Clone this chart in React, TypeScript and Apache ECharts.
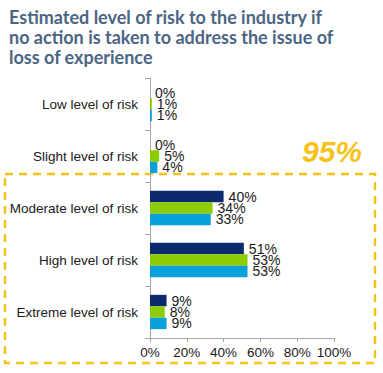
import React, { useEffect, useRef } from "react";
import * as echarts from "echarts";

const categories = [
  "Low level of risk",
  "Slight level of risk",
  "Moderate level of risk",
  "High level of risk",
  "Extreme level of risk",
];
const seriesA = [0, 0, 40, 51, 9];
const seriesB = [1, 5, 34, 53, 8];
const seriesC = [1, 4, 33, 53, 9];
const xTicks = [0, 20, 40, 60, 80, 100];
const titleText =
  "Estimated level of risk to the industry if\nno action is taken to address the issue of\nloss of experience";
const highlightText = "95%";

export default function App() {
  const ref = useRef<HTMLDivElement>(null);
  useEffect(() => {
    if (!ref.current) return;
    const chart = echarts.init(ref.current, undefined, { renderer: "svg" });
    const font = "Liberation Sans, Arial, sans-serif";
    const label = {
      show: true,
      position: "right" as const,
      distance: 5,
      formatter: "{c}%",
      fontSize: 14,
      lineHeight: 11,
      fontFamily: font,
      color: "#1a1a1a",
    };
    const colors = ["#0d2a6e", "#8ccc00", "#0aa0dc"];
    const mk = (data: number[], i: number) => ({
      type: "bar",
      data,
      barGap: "0%",
      barCategoryGap: "34%",
      itemStyle: { color: colors[i] },
      label,
    });
    chart.setOption({
      animation: false,
      title: {
        text: titleText,
        left: 4,
        top: 2,
        textStyle: {
          fontFamily: "Lato, Open Sans, sans-serif",
          fontWeight: "bold",
          fontSize: 18,
          lineHeight: 20,
          color: "#4b6584",
        },
      },
      grid: { left: 150, right: 49, top: 78, bottom: 35 },
      xAxis: {
        type: "value",
        min: 0,
        max: 100,
        interval: 20,
        axisLine: { show: true, lineStyle: { color: "#a6a6a6" } },
        axisTick: { show: true, length: 4, lineStyle: { color: "#a6a6a6" } },
        splitLine: { show: false },
        axisLabel: {
          formatter: (v: number) => (xTicks.includes(v) ? v + "%" : ""),
          fontSize: 13.5,
          fontFamily: font,
          color: "#1a1a1a",
          margin: 7,
        },
      },
      yAxis: {
        type: "category",
        data: categories,
        inverse: true,
        axisLine: { show: true, lineStyle: { color: "#a6a6a6" } },
        axisTick: { show: true, length: 5, lineStyle: { color: "#a6a6a6" } },
        axisLabel: {
          fontSize: 13.5,
          fontFamily: font,
          color: "#1a1a1a",
          margin: 12,
        },
      },
      series: [mk(seriesA, 0), mk(seriesB, 1), mk(seriesC, 2)],
      graphic: [
        {
          type: "rect",
          shape: { x: 5, y: 174, width: 370, height: 189 },
          style: {
            fill: "none",
            stroke: "#f5c21a",
            lineWidth: 2.5,
            lineDash: [8, 6],
          },
          silent: true,
        },
        {
          type: "text",
          x: 302,
          y: 136,
          style: {
            text: highlightText,
            fontSize: 30,
            fontWeight: "bold",
            fontStyle: "italic",
            fontFamily: font,
            fill: "#f5c21a",
          },
        },
      ],
    });
    return () => chart.dispose();
  }, []);
  return <div ref={ref} style={{ width: 383, height: 373, position: "absolute", left: 0, top: 0 }} />;
}
